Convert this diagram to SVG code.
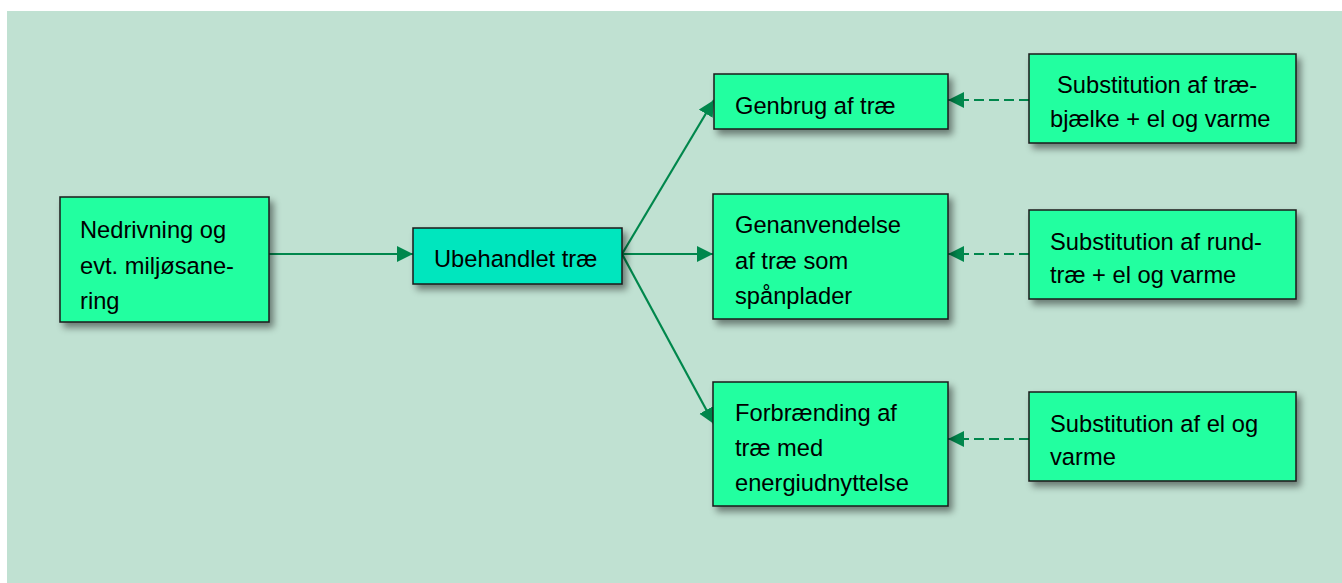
<svg xmlns="http://www.w3.org/2000/svg" width="1342" height="583" viewBox="0 0 1342 583">
<defs>
<filter id="sh" x="-10%" y="-10%" width="130%" height="140%">
<feDropShadow dx="4" dy="5" stdDeviation="3.5" flood-color="#000" flood-opacity="0.45"/>
</filter>
<marker id="ah" markerUnits="userSpaceOnUse" markerWidth="18" markerHeight="18" refX="16" refY="8" orient="auto">
<path d="M0,0 L16,8 L0,16 z" fill="#00874C"/>
</marker>
<style>
.box{fill:#22FFA0;stroke:#1a1a1a;stroke-width:1.5;filter:url(#sh)}
.box2{fill:#00E6BE;stroke:#1a1a1a;stroke-width:1.5;filter:url(#sh)}
.t{font-family:"Liberation Sans",Arial,sans-serif;font-size:23.7px;fill:#000}
.c{stroke:#00874C;stroke-width:2.2;fill:none;marker-end:url(#ah)}
.d{stroke-dasharray:10,5}
</style>
</defs>
<rect x="7" y="11" width="1335" height="572" fill="#C0E1D2"/>
<g id="connectors">
<line class="c" x1="269" y1="254" x2="413" y2="254"/>
<line class="c" x1="622" y1="254" x2="714" y2="100"/>
<line class="c" x1="622" y1="254" x2="713" y2="254"/>
<line class="c" x1="622" y1="254" x2="714" y2="424"/>
<line class="c d" x1="1029" y1="100" x2="948" y2="100"/>
<line class="c d" x1="1029" y1="254" x2="948" y2="254"/>
<line class="c d" x1="1029" y1="439" x2="948" y2="439"/>
</g>
<g id="n1">
<rect class="box" x="60" y="197" width="209" height="125"/>
<text class="t" x="80" y="238">Nedrivning og</text>
<text class="t" x="80" y="274">evt. miljøsane-</text>
<text class="t" x="80" y="309">ring</text>
</g>
<g id="n2">
<rect class="box2" x="413" y="228" width="209" height="56"/>
<text class="t" x="434" y="267">Ubehandlet træ</text>
</g>
<g id="n3">
<rect class="box" x="714" y="74" width="234" height="55"/>
<text class="t" x="735" y="114">Genbrug af træ</text>
</g>
<g id="n4">
<rect class="box" x="713" y="194" width="235" height="125"/>
<text class="t" x="735" y="233">Genanvendelse</text>
<text class="t" x="735" y="268.5">af træ som</text>
<text class="t" x="735" y="304">spånplader</text>
</g>
<g id="n5">
<rect class="box" x="713" y="382" width="235" height="124"/>
<text class="t" x="735" y="421">Forbrænding af</text>
<text class="t" x="735" y="456">træ med</text>
<text class="t" x="735" y="491">energiudnyttelse</text>
</g>
<g id="n6">
<rect class="box" x="1029" y="54" width="267" height="89"/>
<text class="t" x="1057" y="93">Substitution af træ-</text>
<text class="t" x="1050" y="127">bjælke + el og varme</text>
</g>
<g id="n7">
<rect class="box" x="1029" y="210" width="267" height="89"/>
<text class="t" x="1050" y="250">Substitution af rund-</text>
<text class="t" x="1050" y="283">træ + el og varme</text>
</g>
<g id="n8">
<rect class="box" x="1029" y="392" width="267" height="89"/>
<text class="t" x="1050" y="432">Substitution af el og</text>
<text class="t" x="1050" y="465">varme</text>
</g>
</svg>
